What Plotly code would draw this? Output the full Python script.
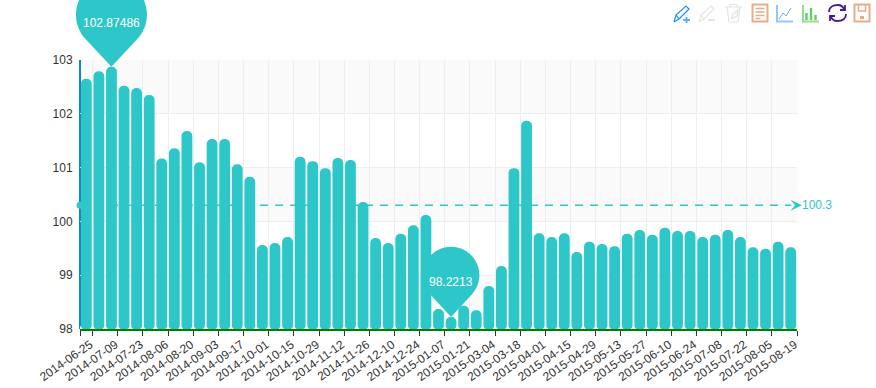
import math
import plotly.graph_objects as go

# ---- data ----
dates = ["2014-06-25","2014-07-02","2014-07-09","2014-07-16","2014-07-23","2014-07-30","2014-08-06","2014-08-13",
         "2014-08-20","2014-08-27","2014-09-03","2014-09-10","2014-09-17","2014-09-24","2014-10-01","2014-10-08",
         "2014-10-15","2014-10-22","2014-10-29","2014-11-05","2014-11-12","2014-11-19","2014-11-26","2014-12-03",
         "2014-12-10","2014-12-17","2014-12-24","2014-12-31","2015-01-07","2015-01-14","2015-01-21","2015-01-28",
         "2015-03-04","2015-03-11","2015-03-18","2015-03-25","2015-04-01","2015-04-08","2015-04-15","2015-04-22",
         "2015-04-29","2015-05-06","2015-05-13","2015-05-20","2015-05-27","2015-06-03","2015-06-10","2015-06-17",
         "2015-06-24","2015-07-01","2015-07-08","2015-07-15","2015-07-22","2015-07-29","2015-08-05","2015-08-12",
         "2015-08-19"]
values = [102.65,102.79,102.87486,102.52,102.48,102.35,101.17,101.36,101.68,101.10,101.53,101.53,101.06,100.83,
          99.56,99.60,99.71,101.20,101.12,100.99,101.18,101.14,100.36,99.69,99.60,99.77,99.93,100.12,
          98.37,98.2213,98.43,98.35,98.80,99.17,100.99,101.87,99.78,99.71,99.78,99.43,99.62,99.58,99.54,
          99.77,99.84,99.75,99.88,99.82,99.82,99.71,99.75,99.84,99.71,99.52,99.49,99.62,99.52]
average = 100.3
y_ticks = [98, 99, 100, 101, 102, 103]
label_every = 2

# ---- style ----
TEAL = "#2ec7c9"
BAND = "#fafafa"
FONT = "Liberation Sans, Arial, sans-serif"
W, H = 876, 388
L, R, T, B = 80, 79, 60, 59
PW, PH = W - L - R, H - T - B
N = len(values)
y_lo, y_hi = y_ticks[0], y_ticks[-1]

def fx(i):   # category index -> paper fraction
    return (i + 0.5) / N
def fy(v):   # value -> paper fraction
    return (v - y_lo) / (y_hi - y_lo)

def pixel_shape(xfrac, yfrac, path, **kw):
    return dict(type="path", xref="paper", yref="paper", xsizemode="pixel", ysizemode="pixel",
                xanchor=xfrac, yanchor=yfrac, path=path, layer="above", **kw)

def flip(path_cmds):
    """path_cmds: list of (cmd, [x,y,...]) in y-down local px -> shape path (y-up)."""
    out = []
    for c, nums in path_cmds:
        pts = " ".join(f"{nums[i]:.2f},{-nums[i+1]:.2f}" for i in range(0, len(nums), 2))
        out.append(f"{c}{pts}")
    return " ".join(out)

def pin_path(r, h):
    th = math.acos(r / h)
    cy = -h
    start = math.pi / 2 - th          # right tangent point (angle measured y-down)
    end = math.pi / 2 + th - 2 * math.pi
    cmds = [("M", [0, 0])]
    p = (r * math.cos(start), cy + r * math.sin(start))
    cmds.append(("L", list(p)))
    n = 6
    da = (end - start) / n
    k = 4 / 3 * math.tan(da / 4)
    a = start
    for _ in range(n):
        b = a + da
        x0, y0 = r * math.cos(a), cy + r * math.sin(a)
        x1, y1 = r * math.cos(b), cy + r * math.sin(b)
        c1 = (x0 - k * r * math.sin(a), y0 + k * r * math.cos(a))
        c2 = (x1 + k * r * math.sin(b), y1 - k * r * math.cos(b))
        cmds.append(("C", [*c1, *c2, x1, y1]))
        a = b
    cmds.append(("Z", []))
    return flip(cmds)

idx = list(range(N))

fig = go.Figure()
fig.add_bar(x=idx, y=values, marker_color=TEAL, marker_line_width=0, marker_cornerradius=5, width=0.86,
            hoverinfo="skip", showlegend=False)
# small background-coloured wedges between the feet of the bars give them rounded bottoms
fig.add_scatter(x=[i - 0.5 for i in range(N + 1)], y=[y_lo] * (N + 1), mode="markers", cliponaxis=True,
                marker=dict(symbol="triangle-up", size=7, color=BAND, line_width=0),
                hoverinfo="skip", showlegend=False)
# average line
fig.add_scatter(x=[-0.5, N - 0.95], y=[average, average], mode="lines+markers", cliponaxis=False,
                line=dict(color=TEAL, width=1.5, dash="8px,7px"),
                marker=dict(color=TEAL, size=[7, 0], line=dict(width=0, color=TEAL), opacity=1),
                hoverinfo="skip", showlegend=False)

shapes = []
# alternating bands
for k in range(len(y_ticks) - 1):
    if k % 2 == 0:
        shapes.append(dict(type="rect", xref="paper", x0=0, x1=1, yref="y", y0=y_ticks[k], y1=y_ticks[k + 1],
                           fillcolor=BAND, line_width=0, layer="below"))
# blue y axis line
shapes.append(dict(type="line", xref="paper", yref="paper", x0=0, x1=0, y0=0, y1=1,
                   line=dict(color="#0b86cf", width=2), layer="between"))

annotations = []
# pins
for i, r, h, ts in [(values.index(max(values)), 35.5, 52, 44), (values.index(min(values)), 28.3, 42, 35)]:
    shapes.append(pixel_shape(fx(i), fy(values[i]), pin_path(r, h), fillcolor=TEAL, line_width=0))
    annotations.append(dict(x=i, y=values[i], xref="x", yref="y", text=str(values[i]), showarrow=False,
                            yshift=ts, xanchor="center", yanchor="middle",
                            font=dict(family=FONT, size=12, color="#ffffff")))
# average arrow head + label
shapes.append(pixel_shape(1, fy(average), flip([("M", [5, 0]), ("L", [-6.5, -5.5]), ("L", [-2, 0]), ("L", [-6.5, 5.5]), ("Z", [])]),
                          fillcolor=TEAL, line_width=0))
annotations.append(dict(x=1, xref="paper", y=average, yref="y", text=f"{average}", showarrow=False,
                        xanchor="left", yanchor="middle", xshift=3,
                        font=dict(family=FONT, size=12, color=TEAL)))

# toolbox icons (page furniture, placed in page pixels)
def icon(px, py, path, color, width=1.2, fill=None):
    kw = dict(line=dict(color=color, width=width))
    if fill:
        kw["fillcolor"] = fill
    shapes.append(pixel_shape((px - L) / PW, (H - B - py) / PH, path, **kw))

def P(*cmds):
    return flip(cmds)

BLUE, GREY, ORG, SKY, GRN = "#1e90ff", "#e4e4e4", "#e8ad88", "#90c8ff", "#90e090"
pencil = P(("M", [1, 17]), ("L", [3, 10]), ("L", [13, 1]), ("L", [16, 4]), ("L", [6, 14]), ("L", [1, 17]),
           ("M", [3, 10]), ("L", [6, 14]))
icon(673, 5, pencil, BLUE)
icon(673, 5, P(("M", [10, 15]), ("L", [17, 15]), ("M", [13.5, 12]), ("L", [13.5, 18])), "#62aef8", 2)
icon(698, 5, pencil, GREY)
icon(698, 5, P(("M", [10, 15]), ("L", [17, 15])), GREY, 2)
icon(725, 4, P(("M", [0, 3]), ("L", [17, 3]), ("M", [5, 3]), ("L", [5, 0.5]), ("L", [12, 0.5]), ("L", [12, 3]),
               ("M", [2, 3]), ("L", [4, 18]), ("L", [13, 18]), ("L", [15, 3]),
               ("M", [6, 15]), ("L", [8, 10]), ("L", [13, 6]), ("L", [12, 12]), ("L", [6, 15])), GREY)
doc_box = P(("M", [0, 0]), ("L", [15, 0]), ("L", [15, 17]), ("L", [0, 17]), ("Z", []))
icon(752.5, 4.5, doc_box, ORG, 2)
icon(752.5, 4.5, P(("M", [3, 4]), ("L", [12, 4]), ("M", [3, 7.5]), ("L", [12, 7.5]), ("M", [3, 11]), ("L", [12, 11]),
                   ("M", [3, 14]), ("L", [8, 14])), ORG, 1.5)
icon(776, 5, P(("M", [1, 0]), ("L", [1, 16.5]), ("L", [17, 16.5])), SKY, 2)
icon(776, 5, P(("M", [3, 14]), ("L", [7, 8]), ("L", [10, 11]), ("L", [15, 3])), "#6aa9ee", 1)
icon(802, 5, P(("M", [1, 0]), ("L", [1, 16.5]), ("L", [17, 16.5])), GRN, 2)
icon(802, 5, P(("M", [4.5, 15]), ("L", [4.5, 8]), ("M", [9, 15]), ("L", [9, 3]), ("M", [13.5, 15]), ("L", [13.5, 10])), "#62cf6e", 2.5)
icon(828, 4, P(("M", [1, 8]), ("C", [1, 3, 5, 1, 10, 1]), ("C", [13, 1, 15, 3, 16, 5]),
               ("M", [17, 1]), ("L", [17, 6]), ("L", [12, 6])), "#4b1a8c", 1.8)
icon(828, 4, P(("M", [18, 10]), ("C", [18, 15, 14, 17, 9, 17]), ("C", [6, 17, 4, 15, 3, 13]),
               ("M", [2, 17]), ("L", [2, 12]), ("L", [7, 12])), "#4b1a8c", 1.8)
icon(854.5, 4.5, doc_box, ORG, 2)
icon(854.5, 4.5, P(("M", [4, 0]), ("L", [4, 6.5]), ("L", [11, 6.5]), ("L", [11, 0])), ORG, 1.5)
icon(854.5, 4.5, P(("M", [5.5, 13]), ("L", [9.5, 13])), ORG, 3)

fig.update_layout(
    width=W, height=H, autosize=False,
    margin=dict(l=L, r=R, t=T, b=B, pad=0, autoexpand=False),
    paper_bgcolor="#ffffff", plot_bgcolor="#ffffff",
    barmode="overlay", showlegend=False,
    font=dict(family=FONT, size=12, color="#333333"),
    shapes=shapes, annotations=annotations,
)
fig.update_xaxes(
    automargin=False,
    range=[-0.5, N - 0.5], tickmode="array", tickvals=idx[::label_every], ticktext=dates[::label_every],
    tickangle=-35, ticks="outside", ticklen=2, tickcolor="rgba(0,0,0,0)", showgrid=False, zeroline=False,
    showline=True, linecolor="#008000", linewidth=2, tickfont=dict(family=FONT, size=12, color="#333333"),
    ticklabelshift=4,
    minor=dict(tickmode="array", tickvals=[-0.5] + [i + 0.5 for i in idx[::label_every]],
               ticks="outside", ticklen=5, tickcolor="#333333", tickwidth=1,
               showgrid=True, gridcolor="#eeeeee", gridwidth=1),
)
fig.update_yaxes(
    automargin=False,
    range=[y_lo, y_hi], tickmode="array", tickvals=y_ticks, ticks="outside", ticklen=4,
    tickcolor="rgba(0,0,0,0)", showgrid=True, gridcolor="#eeeeee", gridwidth=1, zeroline=False,
    showline=False, tickfont=dict(family=FONT, size=12, color="#333333"),
)

fig.write_html("out.html", config=dict(displayModeBar=False),
               post_script="document.body.style.margin='0';")
